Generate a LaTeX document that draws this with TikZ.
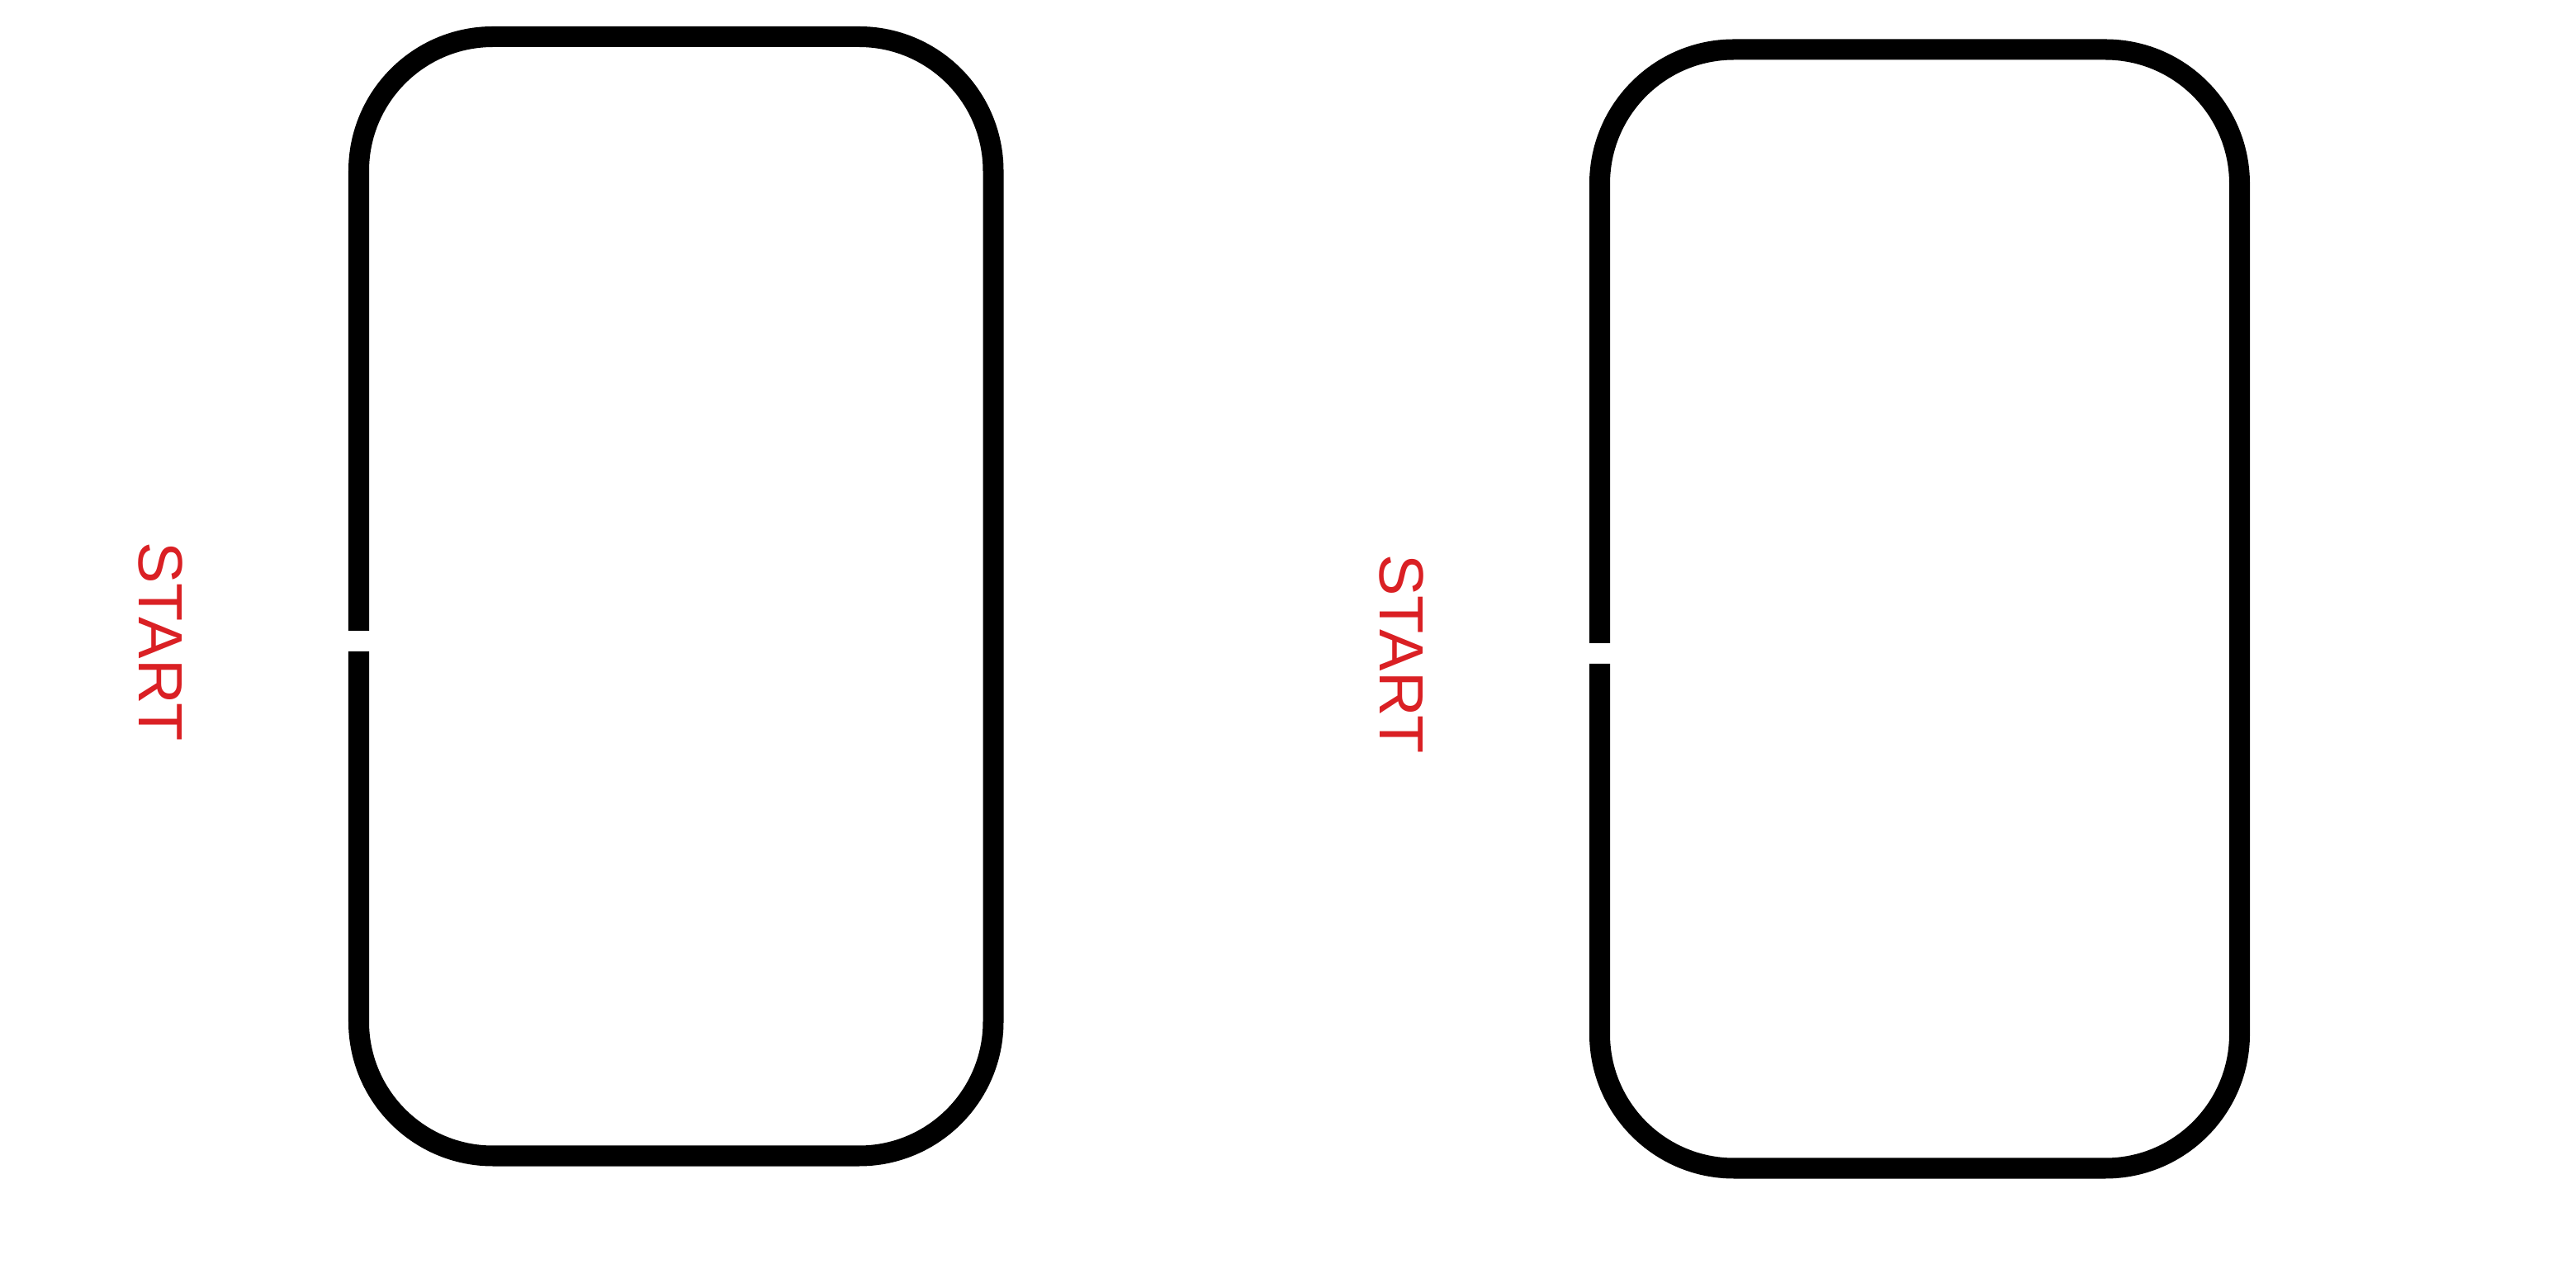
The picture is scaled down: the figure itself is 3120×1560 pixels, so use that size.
\documentclass[tikz,border=0pt]{standalone}
\usepackage{fontspec}
\setmainfont{Liberation Sans}
\definecolor{startred}{RGB}{218,32,36}
\begin{document}
\begin{tikzpicture}[x=0.01cm,y=0.01cm,
  track/.style={draw=black,line width=0.25cm,rounded corners=1.625cm,line cap=butt},
  startlabel/.style={text=startred,font=\fontsize{21.5}{26}\selectfont,rotate=-90,inner sep=0pt}]
\fill[white] (0,0) rectangle (3120,1560);
\useasboundingbox (0,0) rectangle (3120,1560);
% left track
\draw[track] (434.5,796) -- (434.5,1515.5) -- (1203,1515.5) -- (1203,160) -- (434.5,160) -- (434.5,771);
% right track
\draw[track] (1937.5,781) -- (1937.5,1500) -- (2712.5,1500) -- (2712.5,145) -- (1937.5,145) -- (1937.5,756);
\node[startlabel] (startA) at (195,783) {START};
\node[startlabel] (startB) at (1698,768) {START};
\end{tikzpicture}
\end{document}
